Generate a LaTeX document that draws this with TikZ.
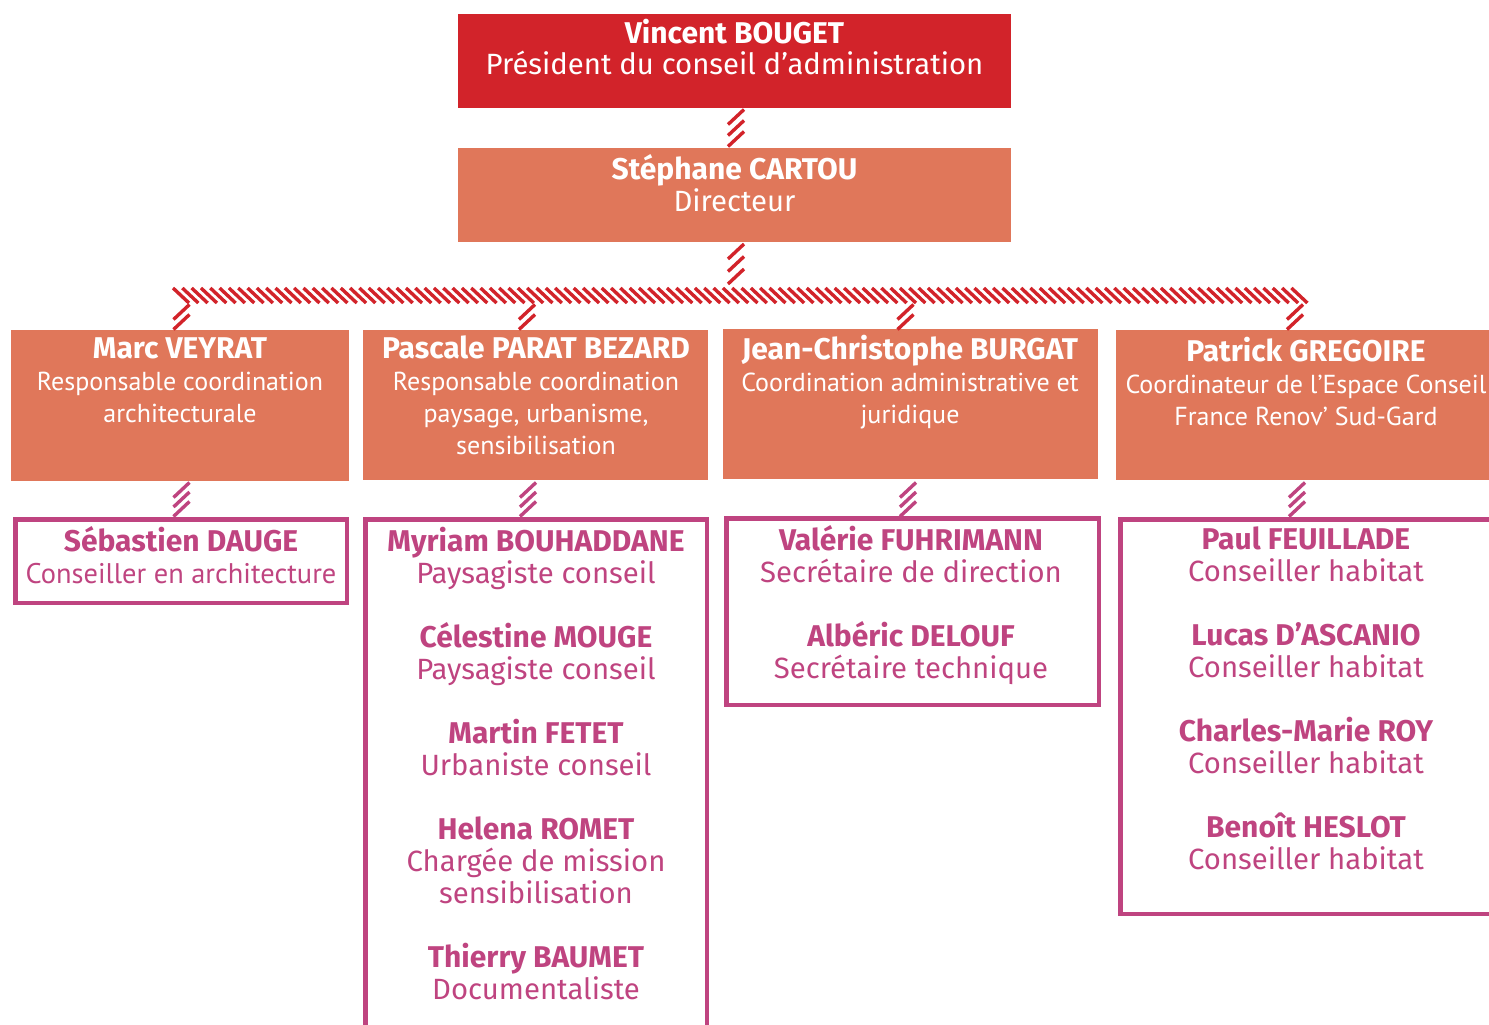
\documentclass[tikz,border=0pt]{standalone}
\usepackage{fontspec}
\setmainfont{Fira Sans}
\newfontfamily\condfont{PT Sans}
\usetikzlibrary{calc}
\definecolor{cred}{HTML}{D2232A}
\definecolor{corange}{HTML}{E0775A}
\definecolor{cpink}{HTML}{BF4480}
\newcommand\txtfont{\fontsize{29.3}{32}\selectfont\lineskiplimit=-100pt\relax}
\tikzset{
  box/.style={rectangle, inner sep=0pt, outer sep=0pt},
  redbox/.style={box, fill=cred},
  orbox/.style={box, fill=corange},
  pinkbox/.style={box, draw=cpink, line width=4.5pt},
  txt/.style={align=center, inner sep=0pt, anchor=north, font=\txtfont},
  wtext/.style={txt, text=white},
  ptext/.style={txt, text=cpink},
  hatch/.style={line width=3.4pt, line cap=butt},
  stroke/.pic={\draw[hatch] (-8,7.5) -- (8,-7.5);},
}
\newcommand\boxat[6]{\node[#2, minimum width={#5-#3}, minimum height={#6-#4}] (#1) at ({(#3+#5)/2},{(#4+#6)/2}) {};}
\newcommand\cnd[1]{{\condfont\fontsize{26}{32}\selectfont #1}}
\newcommand\cndb[1]{{\condfont\fontsize{28.4}{32}\selectfont #1}}
\newcommand\nm[1]{{\fontsize{30}{32}\selectfont\bfseries #1}}
\begin{document}
\begin{tikzpicture}[x=1pt,y=-1pt]
\useasboundingbox (0,0) rectangle (1489,1025);
\clip (0,0) rectangle (1489,1025);
% boxes
\boxat{pres}{redbox}{458}{14}{1011}{108}
\boxat{dir}{orbox}{458}{148}{1011}{242}
\boxat{o1}{orbox}{11}{330}{349}{481}
\boxat{o2}{orbox}{363}{330}{708}{480}
\boxat{o3}{orbox}{723}{329}{1098}{479}
\boxat{o4}{orbox}{1116}{330}{1495}{480}
\boxat{p1}{pinkbox}{15.25}{519.25}{346.75}{602.75}
\boxat{p2}{pinkbox}{365.25}{519.25}{706.75}{1045}
\boxat{p3}{pinkbox}{726.25}{518.25}{1098.75}{704.75}
\boxat{p4}{pinkbox}{1120.25}{519.25}{1500}{913.75}
% texts
\node[wtext] (tpres) at (734.5,19) {\strut\nm{Vincent BOUGET}\\[-1pt]Président du conseil d’administration};
\node[wtext] (tdir) at (734.5,154.6) {\strut\nm{Stéphane CARTOU}\\Directeur};
\node[wtext] (to1) at (180,335.6) {\strut\nm{Marc VEYRAT}\\\cnd{Responsable coordination}\\\cnd{architecturale}};
\node[wtext] (to2) at (536,335.6) {\strut\nm{Pascale PARAT BEZARD}\\\cnd{Responsable coordination}\\\cnd{paysage, urbanisme,}\\\cnd{sensibilisation}};
\node[wtext] (to3) at (910,334.6) {\strut\nm{Jean-Christophe BURGAT}\\\cnd{Coordination administrative et}\\\cnd{juridique}};
\node[wtext] (to4) at (1306,336.6) {\strut\nm{Patrick GREGOIRE}\\\cnd{Coordinateur de l’Espace Conseil}\\\cnd{France Renov’ Sud-Gard}};
\node[ptext] (tp1) at (181,526.6) {\strut\nm{Sébastien DAUGE}\\\cndb{Conseiller en architecture}};
\node[ptext] (tp2) at (536,526.6) {\strut\nm{Myriam BOUHADDANE}\\Paysagiste conseil\\[32pt]\nm{Célestine MOUGE}\\Paysagiste conseil\\[32pt]\nm{Martin FETET}\\Urbaniste conseil\\[32pt]\nm{Helena ROMET}\\Chargée de mission\\sensibilisation\\[32pt]\nm{Thierry BAUMET}\\Documentaliste};
\node[ptext] (tp3) at (911,525.6) {\strut\nm{Valérie FUHRIMANN}\\Secrétaire de direction\\[32pt]\nm{Albéric DELOUF}\\Secrétaire technique};
\node[ptext] (tp4) at (1306,526.6) {\strut\nm{Paul FEUILLADE}\\Conseiller habitat\\[32pt]\nm{Lucas D’ASCANIO}\\Conseiller habitat\\[32pt]\nm{Charles-Marie ROY}\\Conseiller habitat\\[32pt]\nm{Benoît HESLOT}\\Conseiller habitat};
% connectors
\begin{scope}[cred]
\path ($(pres.south)!0.5!(dir.north)$) coordinate (c0);
\foreach \d in {-11,0,11} \pic[cred] at ($(c0)+(1.5,\d)$) {stroke};
\coordinate (c1) at ($(dir.south)+(1.5,22)$);
\foreach \d in {-12.5,0,12.5} \pic[cred] at ($(c1)+(0,\d)$) {stroke};
\coordinate (barL) at (173,288);
\foreach \i in {0,...,120} \draw[hatch] ($(barL)+(\i*9.32,0)$) -- ++(16,15);
\foreach \n/\x in {o1/181.5,o2/527,o3/905.5,o4/1295}
  \foreach \yy in {312,322} \pic[cred] at (\x,\yy) {stroke};
\end{scope}
\begin{scope}[cpink]
\foreach \n/\x in {o1/181.5,o2/528,o3/908,o4/1297}
  \foreach \yy in {490,499.5,509} \pic[cpink] at (\x,\yy) {stroke};
\end{scope}
\end{tikzpicture}
\end{document}
